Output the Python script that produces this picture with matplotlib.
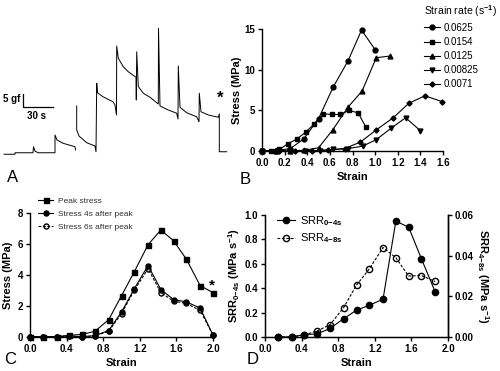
import matplotlib
matplotlib.use("Agg")
import matplotlib.pyplot as plt
import numpy as np

plt.rcParams['font.family'] = ['Liberation Sans', 'DejaVu Sans']
plt.rcParams['font.weight'] = 'bold'
plt.rcParams['mathtext.fontset'] = 'custom'
plt.rcParams['mathtext.rm'] = 'Liberation Sans'
plt.rcParams['mathtext.bf'] = 'Liberation Sans:bold'
plt.rcParams['mathtext.it'] = 'Liberation Sans:italic'

# ---- panel A: force trace (time in s, force in gf) ----
trace_time = [0, 11, 11, 29, 29.5, 31, 34, 51, 51, 53, 59, 71, 71.5, np.nan,
              72.7, 72.7, 75, 82.7, 91, 92, 92.7, 93.5, 99, 109, 111, 112.5,
              112.7, 114.3, 119.3, 124.3, 132, 132.3, 132.7, 134.3, 139.3, 146,
              154.3, 154.5, 156, 164.3, 172.7, 174, 174.3, 176, 182.7, 192.7,
              195, 195.3, 197, 204.3, 214.3, 215.3, 215.3, 222.7]
trace_force = [0, 0, 0.6, 0.6, 3.0, 1.3, 0.6, 0.6, 7.7, 5.7, 4.4, 3.0, 1.7, np.nan,
               19.3, 9.7, 7.3, 4.6, 3.3, 1.0, 28.4, 24.6, 23.0, 21.0, 19.7, 15.7,
               43.3, 38.4, 35.0, 33.0, 30.8, 21.7, 41.0, 27.1, 24.4, 22.8,
               20.1, 50.4, 19.3, 17.7, 16.4, 14.1, 35.3, 18.8, 16.6, 15.0,
               13.0, 24.4, 17.0, 15.7, 14.8, 16.1, 1.0, 1.0]

# ---- panel B: stress-strain at several strain rates ----
rate_labels = ['0.0625', '0.0154', '0.0125', '0.00825', '0.0071']
b_strain = [
    [0, 0.12, 0.25, 0.37, 0.50, 0.63, 0.76, 0.88, 1.0],
    [0, 0.077, 0.154, 0.23, 0.31, 0.385, 0.46, 0.54, 0.615, 0.69, 0.77, 0.85, 0.92],
    [0, 0.125, 0.25, 0.375, 0.5, 0.625, 0.76, 0.885, 1.01, 1.13],
    [0, 0.13, 0.25, 0.38, 0.51, 0.63, 0.76, 0.89, 1.01, 1.14, 1.27, 1.40],
    [0, 0.15, 0.29, 0.44, 0.58, 0.73, 0.87, 1.01, 1.16, 1.30, 1.44, 1.59],
]
b_stress = [
    [0, 0.05, 0.3, 1.5, 4.0, 7.9, 11.1, 14.9, 12.5],
    [0, 0, 0.2, 0.9, 1.5, 2.3, 3.3, 4.6, 4.5, 4.5, 5.0, 4.7, 2.9],
    [0, 0, 0, 0.1, 0.4, 2.6, 5.4, 7.4, 11.5, 11.7],
    [0, 0, 0, 0, 0.05, 0.2, 0.3, 0.6, 1.4, 2.8, 4.1, 2.5],
    [0, 0, 0, 0.05, 0.1, 0.3, 1.1, 2.6, 4.1, 5.9, 6.8, 6.1],
]
b_markers = ['o', 's', '^', 'v', 'D']
b_msize = [3.5, 3.5, 3.5, 3.5, 2.6]

# ---- panel C: peak and relaxed stress ----
c_strain = [0, 0.14, 0.29, 0.43, 0.57, 0.71, 0.86, 1.0, 1.14, 1.29, 1.43, 1.57, 1.71, 1.86, 2.0]
c_peak = [0, 0, 0, 0.09, 0.15, 0.35, 1.1, 2.65, 4.2, 5.95, 6.9, 6.2, 5.0, 3.3, 2.85]
c_4s = [0, 0, 0, 0.05, 0, 0.07, 0.4, 1.6, 3.1, 4.6, 3.05, 2.4, 2.25, 1.85, 0.1]
c_6s = [0, 0, 0, 0.02, 0, 0.05, 0.35, 1.5, 3.0, 4.4, 2.85, 2.3, 2.15, 1.7, 0.1]
c_labels = ['Peak stress', 'Stress 4s after peak', 'Stress 6s after peak']

# ---- panel D: stress relaxation rates ----
d_strain = [0.14, 0.29, 0.43, 0.57, 0.71, 0.86, 1.0, 1.14, 1.29, 1.43, 1.57, 1.71, 1.86]
srr_0_4 = [0, 0, 0.02, 0.025, 0.07, 0.15, 0.22, 0.26, 0.31, 0.95, 0.90, 0.64, 0.37]
srr_4_8 = [0, 0, 0.001, 0.003, 0.006, 0.0145, 0.0255, 0.0335, 0.044, 0.039, 0.030, 0.0302, 0.0273]

W, H = 500, 371


def rect(l, t, r, b):
    return [l / W, 1 - b / H, (r - l) / W, (b - t) / H]


def prism(ax, right=False):
    ax.spines['top'].set_visible(False)
    ax.spines['right'].set_visible(right)
    for s in ['left', 'bottom', 'right']:
        ax.spines[s].set_linewidth(1.0)
    ax.tick_params(direction='out', length=3, width=1.0, labelsize=7, pad=2)


def bold_ticks(ax):
    for lab in ax.get_xticklabels() + ax.get_yticklabels():
        lab.set_fontweight('bold')


fig = plt.figure(figsize=(5, 3.71), dpi=100)

# A
axA = fig.add_axes(rect(0, 20, 240, 170))
axA.axis('off')
axA.plot(trace_time, trace_force, color='black', lw=0.7)
axA.plot([18.7, 18.7, 48.7], [24.0, 19.0, 19.0], color='black', lw=0.9)
axA.text(16, 22, '5 gf', ha='right', va='center', fontsize=7, fontweight='bold')
axA.text(32.7, 15.3, '30 s', ha='center', va='center', fontsize=7, fontweight='bold')
axA.text(216, 22.5, '*', ha='center', va='center', fontsize=12, fontweight='bold')
axA.set_xlim(-4, 236)
axA.set_ylim(-6.3, 53.7)

# B
axB = fig.add_axes(rect(262, 29.3, 443, 151))
prism(axB)
handles = []
for x, y, m, ms in zip(b_strain, b_stress, b_markers, b_msize):
    h, = axB.plot(x, y, color='black', lw=0.8, marker=m, ms=ms, clip_on=False)
    handles.append(h)
axB.set_xlim(0, 1.6)
axB.set_ylim(0, 15)
axB.set_xticks(np.arange(0, 1.61, 0.2))
axB.set_yticks([0, 5, 10, 15])
axB.xaxis.set_major_formatter(matplotlib.ticker.FormatStrFormatter('%.1f'))
axB.set_xlabel('Strain', fontsize=8, fontweight='bold', labelpad=3)
axB.set_ylabel('Stress (MPa)', fontsize=8, fontweight='bold', labelpad=2)
fig.legend(handles, rate_labels, loc='upper left', bbox_to_anchor=(424 / W, 1 - 3 / H),
           title='Strain rate (s$^{\\mathrm{-1}}$)', alignment='left', frameon=False,
           prop={'size': 7, 'weight': 'normal'}, title_fontproperties={'size': 7.5, 'weight': 'normal'},
           handlelength=1.65, handletextpad=0.4, labelspacing=0.42, borderpad=0, borderaxespad=0)

# C
axC = fig.add_axes(rect(30, 213, 213, 336.7))
prism(axC)
h1, = axC.plot(c_strain, c_peak, color='black', lw=0.8, marker='s', ms=3.6, clip_on=False)
h2, = axC.plot(c_strain, c_4s, color='black', lw=0.8, marker='o', ms=3.6, clip_on=False)
h3, = axC.plot(c_strain, c_6s, color='black', lw=0.8, ls=(0, (2.5, 1.5)), marker='o', ms=3.6,
               mfc='none', clip_on=False)
axC.text(1.99, 3.3, '*', ha='center', va='center', fontsize=11)
axC.set_xlim(0, 2.0)
axC.set_ylim(0, 8)
axC.set_xticks(np.arange(0, 2.01, 0.4))
axC.set_yticks([0, 2, 4, 6, 8])
axC.xaxis.set_major_formatter(matplotlib.ticker.FormatStrFormatter('%.1f'))
axC.set_xlabel('Strain', fontsize=8, fontweight='bold', labelpad=3)
axC.set_ylabel('Stress (MPa)', fontsize=8, fontweight='bold', labelpad=3)
fig.legend([h1, h2, h3], c_labels, loc='upper left', bbox_to_anchor=(38 / W, 1 - 197 / H),
           frameon=False, prop={'size': 6, 'weight': 'normal'}, labelcolor='#333333',
           handlelength=1.8, handletextpad=0.6, labelspacing=0.65, borderpad=0, borderaxespad=0)

# D
axD = fig.add_axes(rect(265, 215, 448, 337))
prism(axD, right=True)
axD2 = axD.twinx()
axD2.spines['top'].set_visible(False)
axD2.spines['right'].set_linewidth(1.0)
axD2.tick_params(direction='out', length=3, width=1.0, labelsize=7, pad=2)
g1, = axD.plot(d_strain, srr_0_4, color='black', lw=0.8, marker='o', ms=4.5, clip_on=False, zorder=3)
g2, = axD2.plot(d_strain, srr_4_8, color='black', lw=0.8, ls=(0, (2.5, 1.5)), marker='o', ms=4.5,
                mfc='none', clip_on=False)
axD.set_xlim(0, 2.0)
axD.set_ylim(0, 1.0)
axD2.set_ylim(0, 0.06)
axD.set_xticks(np.arange(0, 2.01, 0.4))
axD.set_yticks(np.arange(0, 1.01, 0.2))
axD2.set_yticks([0, 0.02, 0.04, 0.06])
axD.xaxis.set_major_formatter(matplotlib.ticker.FormatStrFormatter('%.1f'))
axD.yaxis.set_major_formatter(matplotlib.ticker.FormatStrFormatter('%.1f'))
axD2.yaxis.set_major_formatter(matplotlib.ticker.FormatStrFormatter('%.2f'))
axD.set_xlabel('Strain', fontsize=8, fontweight='bold', labelpad=3)
axD.set_ylabel('SRR$_{\\mathbf{0{-}4s}}$ (MPa s$^{\\mathbf{-1}}$)', fontsize=8, fontweight='bold',
               labelpad=2)
axD2.set_ylabel('SRR$_{\\mathbf{4{-}8s}}$ (MPa s$^{\\mathbf{-1}}$)', fontsize=8, fontweight='bold',
                rotation=270, labelpad=12)
fig.legend([g1, g2], ['SRR$_{\\mathrm{0{-}4s}}$', 'SRR$_{\\mathrm{4{-}8s}}$'], loc='upper left',
           bbox_to_anchor=(277 / W, 1 - 214 / H), frameon=False, prop={'size': 8, 'weight': 'normal'},
           handlelength=1.6, handletextpad=0.45, labelspacing=0.35, borderpad=0, borderaxespad=0)

for ax in [axB, axC, axD, axD2]:
    bold_ticks(ax)

# panel letters
for letter, px, py in [('A', 13, 177), ('B', 245, 180), ('C', 10, 360), ('D', 253, 360)]:
    fig.text(px / W, 1 - py / H, letter, fontsize=12, fontweight='normal', ha='center', va='center')

fig.savefig('out.png', dpi=100)
